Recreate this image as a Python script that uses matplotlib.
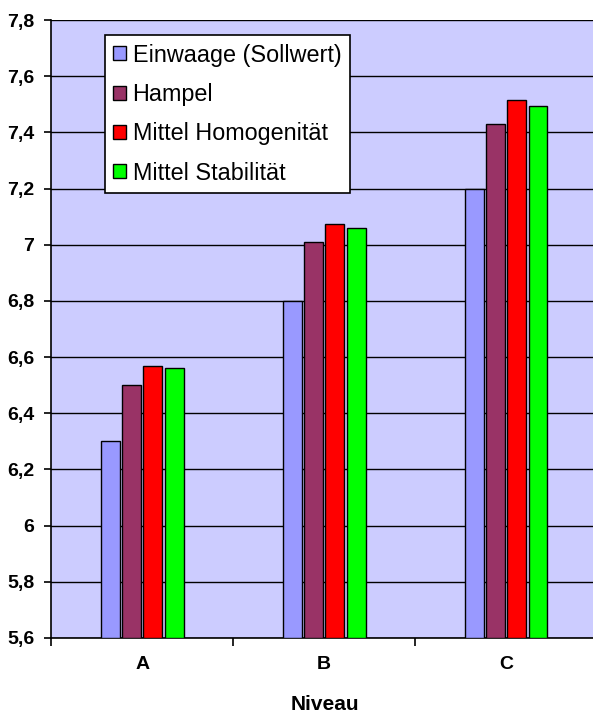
import numpy as np
import matplotlib
matplotlib.use('Agg')
import matplotlib.pyplot as plt
from matplotlib.ticker import FixedLocator, FuncFormatter

plt.rcParams['font.family'] = ['Liberation Sans', 'DejaVu Sans']

# data
categories = ['A', 'B', 'C']
series_names = ['Einwaage (Sollwert)', 'Hampel', 'Mittel Homogenität', 'Mittel Stabilität']
einwaage = [6.30, 6.80, 7.20]
hampel = [6.50, 7.01, 7.43]
homogenitaet = [6.57, 7.075, 7.515]
stabilitaet = [6.56, 7.06, 7.495]
colors = ['#9999FF', '#993366', '#FF0000', '#00FF00']
y_ticks = [5.6, 5.8, 6.0, 6.2, 6.4, 6.6, 6.8, 7.0, 7.2, 7.4, 7.6, 7.8]


def excel_fmt(v, pos):
    s = ('%.1f' % v).rstrip('0').rstrip('.')
    return s.replace('.', ',')


fig = plt.figure(figsize=(5.93, 7.2), dpi=100)
ax = fig.add_axes([0.0862, 0.1139, 0.9207, 0.8583])
ax.set_facecolor('#CCCCFF')

x = np.arange(len(categories))
width = 0.104
step = 0.117
for i, (vals, name, col) in enumerate(zip([einwaage, hampel, homogenitaet, stabilitaet],
                                           series_names, colors)):
    ax.bar(x + (i - 1.5) * step, np.array(vals) - 5.6, bottom=5.6, width=width,
           color=col, edgecolor='black', linewidth=1.0, label=name, zorder=3)

ax.set_ylim(5.6, 7.8)
ax.set_xlim(-0.5, 2.5)
ax.set_yticks(y_ticks)
ax.yaxis.set_major_formatter(FuncFormatter(excel_fmt))
ax.grid(axis='y', color='black', linewidth=1.0, zorder=1)
ax.set_axisbelow(True)

# category boundaries get the tick marks, centres get the labels
ax.xaxis.set_major_locator(FixedLocator([-0.5, 0.5, 1.5, 2.5]))
ax.xaxis.set_major_formatter(plt.NullFormatter())
ax.set_xticks(x, minor=True)
ax.set_xticklabels(categories, minor=True)
ax.tick_params(axis='x', which='minor', length=0, pad=13, labelsize=14)
ax.tick_params(axis='x', which='major', length=6, width=1.2, direction='out')
ax.tick_params(axis='y', length=5, width=1.2, direction='out', labelsize=14, pad=7)
for lab in ax.get_yticklabels() + ax.get_xticklabels(minor=True):
    lab.set_fontweight('bold')

for side in ['top', 'right']:
    ax.spines[side].set_visible(False)
ax.spines['left'].set_linewidth(1.2)
ax.spines['bottom'].set_linewidth(1.2)

ax.set_xlabel('Niveau', fontsize=15, fontweight='bold')
ax.xaxis.set_label_coords(0.501, -0.092)

leg = ax.legend(loc='upper left', bbox_to_anchor=(0.098, 0.975), fontsize=16.8,
                frameon=True, fancybox=False, edgecolor='black', framealpha=1.0,
                handlelength=0.55, handleheight=0.55, handletextpad=0.3,
                labelspacing=0.7, borderpad=0.35, borderaxespad=0)
leg.get_frame().set_linewidth(1.2)

fig.savefig('out.png', dpi=100)
